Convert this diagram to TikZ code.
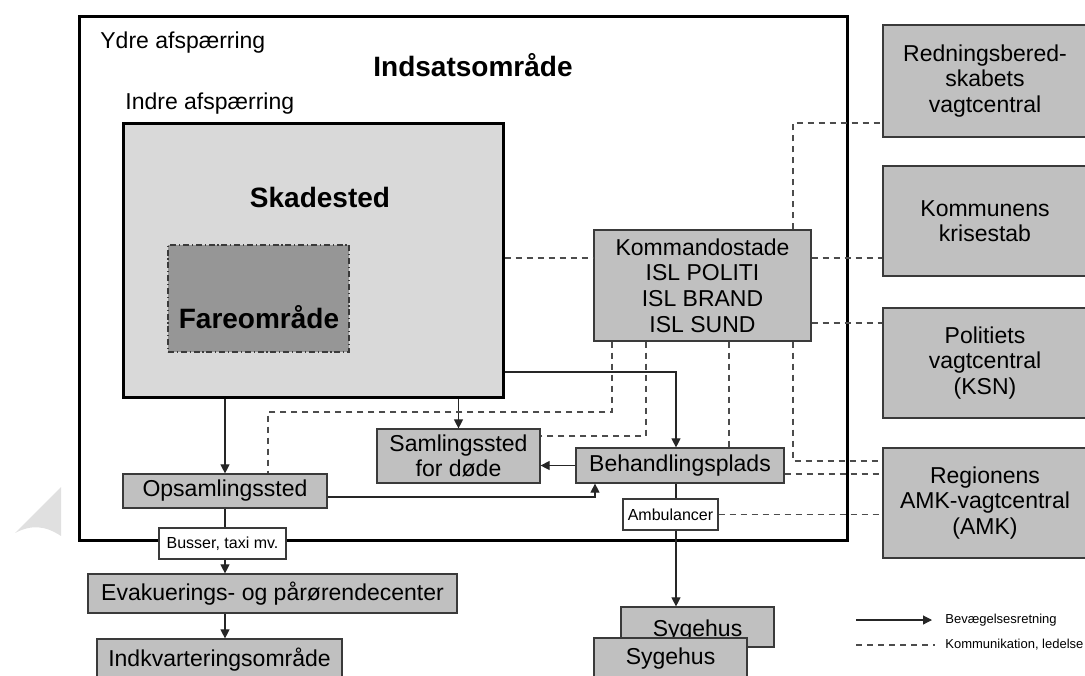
\documentclass[tikz,border=0pt]{standalone}
\usepackage{fontspec}
\setmainfont{Liberation Sans}
\usetikzlibrary{arrows.meta}
\definecolor{boksgraa}{HTML}{C0C0C0}
\definecolor{lysgraa}{HTML}{D9D9D9}
\definecolor{faregraa}{HTML}{969696}
\definecolor{kant}{HTML}{3A3A3A}
\tikzset{
  font={\fontsize{11.5pt}{12.8pt}\selectfont},
  boks/.style={draw=kant, line width=0.6pt, fill=boksgraa, align=center},
  hvid/.style={draw=kant, line width=0.6pt, fill=white, font={\fontsize{8pt}{9pt}\selectfont}},
  bev/.style={draw=black!85, line width=0.55pt, -{Triangle[length=4.5pt,width=4.5pt]}},
  kom/.style={draw=black!70, line width=0.55pt, dash pattern=on 3pt off 2.5pt},
  titel/.style={font={\fontsize{14pt}{16pt}\selectfont\bfseries}}}

\begin{document}
\begin{tikzpicture}[x=5pt,y=5pt]
\tikzstyle{every node}+=[inner sep=0pt]
\useasboundingbox (0,0) rectangle (108.5,-67.5);
\fill [black!12] (6.1,-48.7) -- (1.5,-53.3) .. controls (3.2,-52.4) and (4.6,-52.6) .. (6.1,-53.6) -- cycle;
\draw [black, line width=1.5pt] (7.9,-1.6) rectangle (84.7,-54.0);
\draw (10.0,-4.3) node [anchor=west] {Ydre afspærring};
\draw (47.3,-6.5) node [titel] {Indsatsområde};
\draw (12.5,-10.4) node [anchor=west] {Indre afspærring};
\node [draw=black, line width=1.5pt, fill=lysgraa, minimum width=190pt, minimum height=137pt] (skade) at (31.3,-26.0) {};
\draw (32.0,-19.7) node [titel] {Skadested};
\node [draw=kant, line width=0.6pt, fill=faregraa, dash pattern=on 3pt off 1.4pt on 0.6pt off 1.4pt, minimum width=90.5pt, minimum height=53.5pt] (fare) at (25.85,-29.85) {};
\draw (25.9,-31.7) node [titel] {Fareområde};
\node [boks, minimum width=102pt, minimum height=56pt] (redn) at (98.5,-8.1) {Redningsbered-\\skabets\\vagtcentral};
\node [boks, minimum width=102pt, minimum height=55pt] (kommune) at (98.5,-22.1) {Kommunens\\krisestab};
\node [boks, minimum width=102pt, minimum height=55pt] (politi) at (98.5,-36.3) {Politiets\\vagtcentral\\(KSN)};
\node [boks, minimum width=102pt, minimum height=55pt] (amk) at (98.5,-50.3) {Regionens\\AMK-vagtcentral\\(AMK)};
\node [boks, minimum width=108.5pt, minimum height=55.5pt] (komm) at (70.25,-28.55) {Kommandostade\\ISL POLITI\\ISL BRAND\\ISL SUND};
\node [boks, minimum width=81.5pt, minimum height=27pt] (samling) at (45.85,-45.6) {Samlingssted\\for døde};
\node [boks, minimum width=104pt, minimum height=17.5pt] (behandl) at (68.0,-46.55) {Behandlingsplads};
\node [boks, minimum width=102pt, minimum height=17pt] (ops) at (22.5,-49.1) {Opsamlingssted};
\node [hvid, minimum width=63.5pt, minimum height=15.5pt] (busser) at (22.25,-54.35) {Busser, taxi mv.};
\node [hvid, minimum width=47.5pt, minimum height=15.5pt] (ambul) at (67.05,-51.45) {Ambulancer};
\node [boks, minimum width=184.5pt, minimum height=19.5pt] (evak) at (27.25,-59.35) {Evakuerings- og pårørendecenter};
\node [boks, minimum width=122.5pt, minimum height=20.5pt] (indkv) at (21.95,-65.95) {Indkvarteringsområde};
\node [boks, minimum width=76.5pt, minimum height=20pt] (syg2) at (69.75,-62.7) {};
\draw (69.75,-63.1) node {Sygehus};
\node [boks, minimum width=76.5pt, minimum height=21pt] (syg1) at (67.05,-65.9) {Sygehus};
\draw [bev] (skade.south -| ops.north) -- (ops.north);
\draw [bev] (skade.south -| samling.north) -- (samling.north);
\draw [bev] (skade.east |- 0,-37.2) -| (behandl.north -| 67.6,0);
\draw [bev] (behandl.west) -- (samling.east |- behandl.west);
\draw [bev] (ops.east |- 0,-49.7) -| (behandl.south -| 59.5,0);
\draw [draw=black!85, line width=0.55pt] (ops.south) -- (ops.south |- busser.north);
\draw [bev] (ops.south |- busser.south) -- (ops.south |- evak.north);
\draw [bev] (evak.south -| ops.south) -- (indkv.north -| ops.south);
\draw [draw=black!85, line width=0.55pt] (behandl.south -| 67.6,0) -- (ambul.north -| 67.6,0);
\draw [bev] (ambul.south -| 67.6,0) -- (syg2.north -| 67.6,0);
\draw [kom] (skade.east |- 0,-25.8) -- (komm.west |- 0,-25.8);
\draw [kom] (komm.east |- 0,-25.8) -- (kommune.west |- 0,-25.8);
\draw [kom] (komm.east |- 0,-32.3) -- (politi.west |- 0,-32.3);
\draw [kom] (komm.north -| 79.3,0) |- (redn.west |- 0,-12.3);
\draw [kom] (komm.south -| 61.2,0) |- (26.8,-41.2) -- (ops.north -| 26.8,0);
\draw [kom] (komm.south -| 64.6,0) |- (samling.east |- 0,-43.6);
\draw [kom] (komm.south -| 72.9,0) -- (behandl.north -| 72.9,0);
\draw [kom] (komm.south -| 79.3,0) |- (amk.west |- 0,-46.1);
\draw [kom] (behandl.east |- 0,-47.4) -- (amk.west |- 0,-47.4);
\draw [kom] (ambul.east) -- (amk.west |- ambul.east);
\coordinate (pilstart) at (85.6,-62.0);
\coordinate (pilslut) at (93.2,-62.0);
\coordinate (stregstart) at (85.6,-64.5);
\coordinate (stregslut) at (93.5,-64.5);
\draw [bev] (pilstart) -- (pilslut);
\draw [kom] (stregstart) -- (stregslut);
\node [anchor=west, font={\fontsize{6.5pt}{7pt}\selectfont}] (bevtekst) at (94.5,-62.0) {Bevægelsesretning};
\node [anchor=west, font={\fontsize{6.5pt}{7pt}\selectfont}] (komtekst) at (94.5,-64.5) {Kommunikation, ledelse};
\end{tikzpicture}
\end{document}
